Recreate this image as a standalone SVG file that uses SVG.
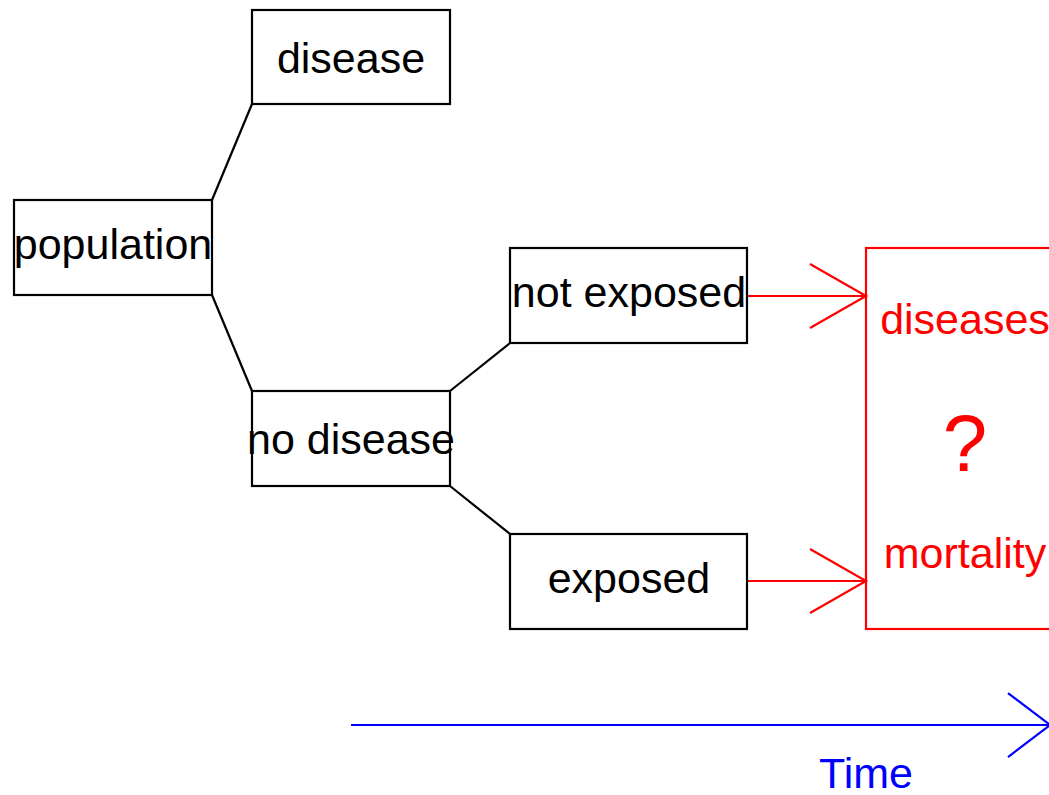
<svg xmlns="http://www.w3.org/2000/svg" width="1049" height="795" viewBox="0 0 1049 795">
<style>
.box{fill:#fff;stroke:#000;stroke-width:2.2}
.lbl{font-family:"Liberation Sans",Arial,sans-serif;font-size:43px;text-anchor:middle;fill:#000}
.red{fill:#f00}
.conn{stroke:#000;stroke-width:2.2;fill:none}
.rconn{stroke:#f00;stroke-width:2.2;fill:none}
</style>
<rect width="1049" height="795" fill="#fff"/>
<g id="connectors">
<line class="conn" x1="212" y1="200" x2="252" y2="104"/>
<line class="conn" x1="212" y1="295" x2="252" y2="391"/>
<line class="conn" x1="450" y1="391" x2="510" y2="343"/>
<line class="conn" x1="450" y1="486" x2="510" y2="534"/>
<path class="rconn" d="M747 296H866M810 264L866 296L810 328"/>
<path class="rconn" d="M747 581H866M810 549L866 581L810 613"/>
</g>
<g id="disease"><rect class="box" x="252" y="10" width="198" height="94"/><text class="lbl" x="351" y="73">disease</text></g>
<g id="population"><rect class="box" x="14" y="200" width="198" height="95"/><text class="lbl" x="113" y="259">population</text></g>
<g id="no-disease"><rect class="box" x="252" y="391" width="198" height="95"/><text class="lbl" x="351" y="454">no disease</text></g>
<g id="not-exposed"><rect class="box" x="510" y="248" width="237" height="95"/><text class="lbl" x="629" y="307">not exposed</text></g>
<g id="exposed"><rect class="box" x="510" y="534" width="237" height="95"/><text class="lbl" x="629" y="593">exposed</text></g>
<g id="outcome">
<rect x="866" y="248" width="200" height="381" fill="none" stroke="#f00" stroke-width="2.2"/>
<text class="lbl red" x="965" y="334">diseases</text>
<text class="lbl red" x="965" y="471" style="font-size:80px">?</text>
<text class="lbl red" x="965" y="568">mortality</text>
</g>
<g id="time">
<path d="M351 725H1052M1008 693L1050 725L1008 757" stroke="#00f" stroke-width="2.2" fill="none"/>
<text class="lbl" x="866" y="788" style="fill:#00f">Time</text>
</g>
</svg>
